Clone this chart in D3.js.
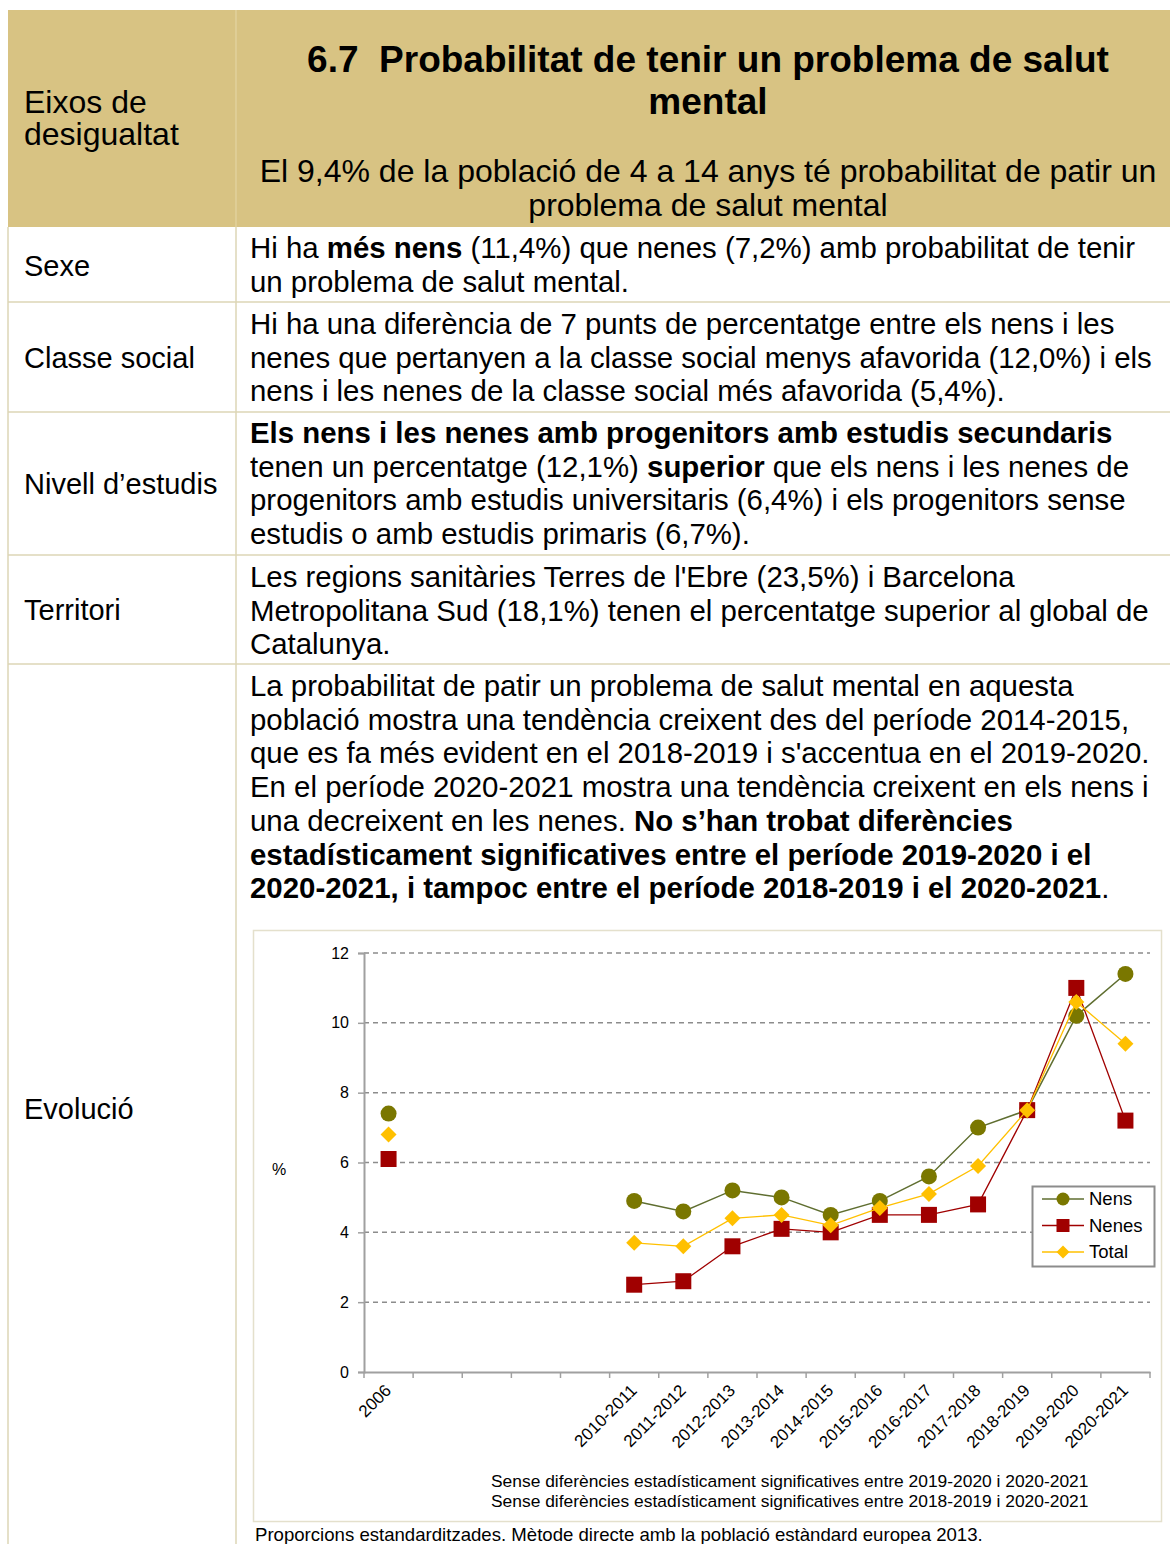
<!DOCTYPE html>
<html>
<head>
<meta charset="utf-8">
<script src="https://cdn.jsdelivr.net/npm/d3@7"></script>
<style>
  body { margin: 0; background: #fff; }
  svg text { font-family: "Liberation Sans", Arial, sans-serif; fill: #000; }
</style>
</head>
<body>
<div id="visualization"></div>
<script>
// Chart data
const categories = ["2006", "", "", "", "", "2010-2011", "2011-2012", "2012-2013", "2013-2014",
  "2014-2015", "2015-2016", "2016-2017", "2017-2018", "2018-2019", "2019-2020", "2020-2021"];
const nens  = [7.4, null, null, null, null, 4.9, 4.6, 5.2, 5.0, 4.5, 4.9, 5.6, 7.0, 7.5, 10.2, 11.4];
const nenes = [6.1, null, null, null, null, 2.5, 2.6, 3.6, 4.1, 4.0, 4.5, 4.5, 4.8, 7.5, 11.0, 7.2];
const total = [6.8, null, null, null, null, 3.7, 3.6, 4.4, 4.5, 4.2, 4.7, 5.1, 5.9, 7.5, 10.6, 9.4];
const yTicks = [0, 2, 4, 6, 8, 10, 12];
const seriesNames = ["Nens", "Nenes", "Total"];

const notes = [
  "Sense diferències estadísticament significatives entre 2019-2020 i 2020-2021",
  "Sense diferències estadísticament significatives entre 2018-2019 i 2020-2021"
];

// Table text: each line is a list of [text, bold]
const rows = [
  { label: "Sexe", top: 227, bottom: 302, labelY: 276, lines: [
    [["Hi ha ", 0], ["més nens", 1], [" (11,4%) que nenes (7,2%) amb probabilitat de tenir", 0]],
    [["un problema de salut mental.", 0]]
  ], y0: 258 },
  { label: "Classe social", top: 302, bottom: 412, labelY: 368, lines: [
    [["Hi ha una diferència de 7 punts de percentatge entre els nens i les", 0]],
    [["nenes que pertanyen a la classe social menys afavorida (12,0%) i els", 0]],
    [["nens i les nenes de la classe social més afavorida (5,4%).", 0]]
  ], y0: 334 },
  { label: "Nivell d’estudis", top: 412, bottom: 555, labelY: 494, lines: [
    [["Els nens i les nenes amb progenitors amb estudis secundaris", 1]],
    [["tenen un percentatge (12,1%) ", 0], ["superior", 1], [" que els nens i les nenes de", 0]],
    [["progenitors amb estudis universitaris (6,4%) i els progenitors sense", 0]],
    [["estudis o amb estudis primaris (6,7%).", 0]]
  ], y0: 443 },
  { label: "Territori", top: 555, bottom: 664, labelY: 620, lines: [
    [["Les regions sanitàries Terres de l'Ebre (23,5%) i Barcelona", 0]],
    [["Metropolitana Sud (18,1%) tenen el percentatge superior al global de", 0]],
    [["Catalunya.", 0]]
  ], y0: 587 },
  { label: "Evolució", top: 664, bottom: 1544, labelY: 1119, lines: [
    [["La probabilitat de patir un problema de salut mental en aquesta", 0]],
    [["població mostra una tendència creixent des del període 2014-2015,", 0]],
    [["que es fa més evident en el 2018-2019 i s'accentua en el 2019-2020.", 0]],
    [["En el període 2020-2021 mostra una tendència creixent en els nens i", 0]],
    [["una decreixent en les nenes. ", 0], ["No s’han trobat diferències", 1]],
    [["estadísticament significatives entre el període 2019-2020 i el", 1]],
    [["2020-2021, i tampoc entre el període 2018-2019 i el 2020-2021", 1], [".", 0]]
  ], y0: 696 }
];

const W = 1170, H = 1544;
const colX = 236, leftX = 8;
const lineGap = 33.7;
const borderColor = "#ddd6b6";

const svg = d3.select("#visualization")
    .append("svg")
    .attr("width", W)
    .attr("height", H);

// Header band
svg.append("rect")
    .attr("x", leftX).attr("y", 10)
    .attr("width", W - leftX).attr("height", 217)
    .attr("fill", "#d8c383");
svg.append("line")
    .attr("x1", colX).attr("x2", colX).attr("y1", 10).attr("y2", 227)
    .attr("stroke", "#e6d8a8").attr("stroke-width", 1);

svg.append("text").attr("x", 24).attr("y", 113)
    .style("font-size", "32px").text("Eixos de");
svg.append("text").attr("x", 24).attr("y", 145)
    .style("font-size", "32px").text("desigualtat");

const midX = 708;
svg.append("text").attr("x", midX).attr("y", 72)
    .attr("text-anchor", "middle")
    .style("white-space", "pre")
    .style("font-size", "37px").style("font-weight", "bold")
    .text("6.7  Probabilitat de tenir un problema de salut");
svg.append("text").attr("x", midX).attr("y", 114)
    .attr("text-anchor", "middle")
    .style("font-size", "37px").style("font-weight", "bold")
    .text("mental");
svg.append("text").attr("x", midX).attr("y", 182)
    .attr("text-anchor", "middle")
    .style("font-size", "32px")
    .text("El 9,4% de la població de 4 a 14 anys té probabilitat de patir un");
svg.append("text").attr("x", midX).attr("y", 216)
    .attr("text-anchor", "middle")
    .style("font-size", "32px")
    .text("problema de salut mental");

// Table borders
svg.append("line")
    .attr("x1", leftX).attr("x2", leftX).attr("y1", 227).attr("y2", H)
    .attr("stroke", borderColor).attr("stroke-width", 1.5);
svg.append("line")
    .attr("x1", colX).attr("x2", colX).attr("y1", 227).attr("y2", H)
    .attr("stroke", borderColor).attr("stroke-width", 1.5);

rows.forEach(r => {
  if (r.bottom < H) {
    svg.append("line")
        .attr("x1", leftX).attr("x2", W).attr("y1", r.bottom).attr("y2", r.bottom)
        .attr("stroke", borderColor).attr("stroke-width", 1.5);
  }
  svg.append("text").attr("x", 24).attr("y", r.labelY)
      .style("font-size", "29px").text(r.label);
  r.lines.forEach((segs, i) => {
    const t = svg.append("text")
        .attr("x", 250).attr("y", r.y0 + i * lineGap)
        .style("font-size", "29.4px");
    segs.forEach(s => {
      t.append("tspan")
          .style("font-weight", s[1] ? "bold" : "normal")
          .text(s[0]);
    });
  });
});

// Chart frame
svg.append("rect")
    .attr("x", 253.5).attr("y", 930.5)
    .attr("width", 908).attr("height", 591)
    .attr("fill", "#fff")
    .attr("stroke", "#e4e0cc").attr("stroke-width", 1.5);

// Scales
const x = d3.scaleBand()
    .domain(d3.range(categories.length))
    .range([364, 1150]);
const y = d3.scaleLinear()
    .domain([0, 12])
    .range([1372, 953]);

// Gridlines
svg.append("g")
  .selectAll("line")
  .data(yTicks.filter(d => d > 0))
  .join("line")
    .attr("x1", x.range()[0]).attr("x2", x.range()[1])
    .attr("y1", d => y(d)).attr("y2", d => y(d))
    .attr("stroke", "#8c8c8c")
    .attr("stroke-width", 1.5)
    .attr("stroke-dasharray", "5,4");

// Y axis
const yAxis = svg.append("g")
    .attr("transform", `translate(${x.range()[0]},0)`)
    .call(d3.axisLeft(y).tickValues(yTicks).tickSize(6).tickPadding(9));
yAxis.select(".domain").attr("stroke", "#a0a0a0").attr("stroke-width", 2);
yAxis.selectAll(".tick line").attr("stroke", "#a0a0a0").attr("stroke-width", 1.5);
yAxis.selectAll(".tick text")
    .style("font-size", "16px")
    .style("font-family", "Liberation Sans, Arial, sans-serif")
    .attr("fill", "#000");

svg.append("text").attr("x", 272).attr("y", 1175)
    .style("font-size", "16px").text("%");

// X axis
const xAxis = svg.append("g")
    .attr("transform", `translate(0,${y(0)})`)
    .call(d3.axisBottom(x).tickSize(0).tickFormat(i => categories[i]));
xAxis.select(".domain").attr("stroke", "#a0a0a0").attr("stroke-width", 2);
xAxis.selectAll(".tick text")
    .style("font-size", "17px")
    .style("font-family", "Liberation Sans, Arial, sans-serif")
    .attr("fill", "#000")
    .attr("text-anchor", "end")
    .attr("dx", "0.3em")
    .attr("dy", "0.5em")
    .attr("transform", "translate(-8,15) rotate(-45)");

// Boundary tick marks
const bounds = d3.range(categories.length + 1).map(i => i < categories.length ? x(i) : x.range()[1]);
svg.append("g")
  .selectAll("line")
  .data(bounds)
  .join("line")
    .attr("x1", d => d).attr("x2", d => d)
    .attr("y1", y(0)).attr("y2", y(0) + 6)
    .attr("stroke", "#a0a0a0").attr("stroke-width", 1.5);

// Series
const cx = i => x(i) + x.bandwidth() / 2;
const series = [
  { name: "Nens", values: nens, line: "#5f6e30", fill: "#7a7700", lw: 1.5, shape: "circle" },
  { name: "Nenes", values: nenes, line: "#a00000", fill: "#a00000", lw: 1.3, shape: "square" },
  { name: "Total", values: total, line: "#ffc000", fill: "#ffc000", lw: 1.3, shape: "diamond" }
];

function markerPath(shape, r) {
  if (shape === "circle") return d3.symbol(d3.symbolCircle, Math.PI * r * r)();
  if (shape === "square") return d3.symbol(d3.symbolSquare, 4 * r * r)();
  return `M0,${-r}L${r},0L0,${r}L${-r},0Z`;
}

const line = d3.line()
    .defined(d => d != null)
    .x((d, i) => cx(i))
    .y(d => y(d));

series.forEach(s => {
  svg.append("path")
      .datum(s.values)
      .attr("fill", "none")
      .attr("stroke", s.line)
      .attr("stroke-width", s.lw)
      .attr("d", line);
  svg.append("g")
    .selectAll("path")
    .data(s.values.map((v, i) => ({ v, i })).filter(d => d.v != null))
    .join("path")
      .attr("transform", d => `translate(${cx(d.i)},${y(d.v)})`)
      .attr("d", markerPath(s.shape, 8))
      .attr("fill", s.fill);
});

// Legend
const legend = svg.append("g").attr("transform", "translate(1032,1186)");
legend.append("rect")
    .attr("x", 0.5).attr("y", 0.5)
    .attr("width", 122).attr("height", 80)
    .attr("fill", "#fff")
    .attr("stroke", "#8c8c8c").attr("stroke-width", 2);
series.forEach((s, i) => {
  const ly = 13 + i * 26.5;
  legend.append("line")
      .attr("x1", 10).attr("x2", 52).attr("y1", ly).attr("y2", ly)
      .attr("stroke", s.line).attr("stroke-width", s.lw);
  legend.append("path")
      .attr("transform", `translate(31,${ly})`)
      .attr("d", markerPath(s.shape, 6.5))
      .attr("fill", s.fill);
  legend.append("text")
      .attr("x", 57).attr("y", ly + 6)
      .style("font-size", "18.5px")
      .text(seriesNames[i]);
});

// Notes
svg.append("g")
  .selectAll("text")
  .data(notes)
  .join("text")
    .attr("x", 491)
    .attr("y", (d, i) => 1487 + i * 20)
    .style("font-size", "17.4px")
    .text(d => d);

svg.append("text").attr("x", 255).attr("y", 1541)
    .style("font-size", "18.6px")
    .text("Proporcions estandarditzades. Mètode directe amb la població estàndard europea 2013.");
</script>
</body>
</html>
